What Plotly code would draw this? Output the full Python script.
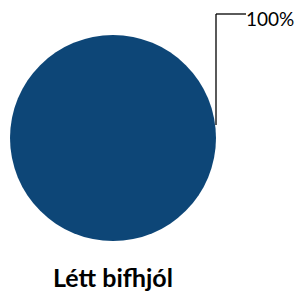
import plotly.graph_objects as go

categories = ["Létt bifhjól"]
values = [100]
colors = ["#0D4677"]
title_text = "Létt bifhjól"

# page body has an 8px margin; figure fills the remaining window area
OFF = 8
W, H = 307 - OFF, 293 - OFF
def px(x): return (x - OFF) / W
def py(y): return 1 - (y - OFF) / H

total = sum(values)
label = f"{values[0] / total * 100:.0f}%"

fig = go.Figure(go.Pie(
    labels=categories, values=values, marker=dict(colors=colors),
    textinfo="none", hoverinfo="label+percent", sort=False,
    domain=dict(x=[px(10), px(216)], y=[py(241), py(35)]),
    showlegend=False,
))

fig.add_shape(type="line", xref="paper", yref="paper",
              x0=px(216), y0=py(125), x1=px(216), y1=py(14),
              line=dict(color="black", width=1.3))
fig.add_shape(type="line", xref="paper", yref="paper",
              x0=px(216), y0=py(14), x1=px(246), y1=py(14),
              line=dict(color="black", width=1.3))
fig.add_annotation(x=px(245), y=py(18), xref="paper", yref="paper",
                   text=label, showarrow=False, xanchor="left", yanchor="middle",
                   borderpad=0,
                   font=dict(family="Lato", size=19, color="black"))
fig.add_annotation(x=px(113), y=py(277), xref="paper", yref="paper",
                   text=f"<b>{title_text}</b>", showarrow=False,
                   xanchor="center", yanchor="middle",
                   font=dict(family="Lato", size=25, color="black"))

fig.update_layout(width=W, height=H, margin=dict(l=0, r=0, t=0, b=0),
                  paper_bgcolor="white", plot_bgcolor="white")
fig.write_html("out.html")
